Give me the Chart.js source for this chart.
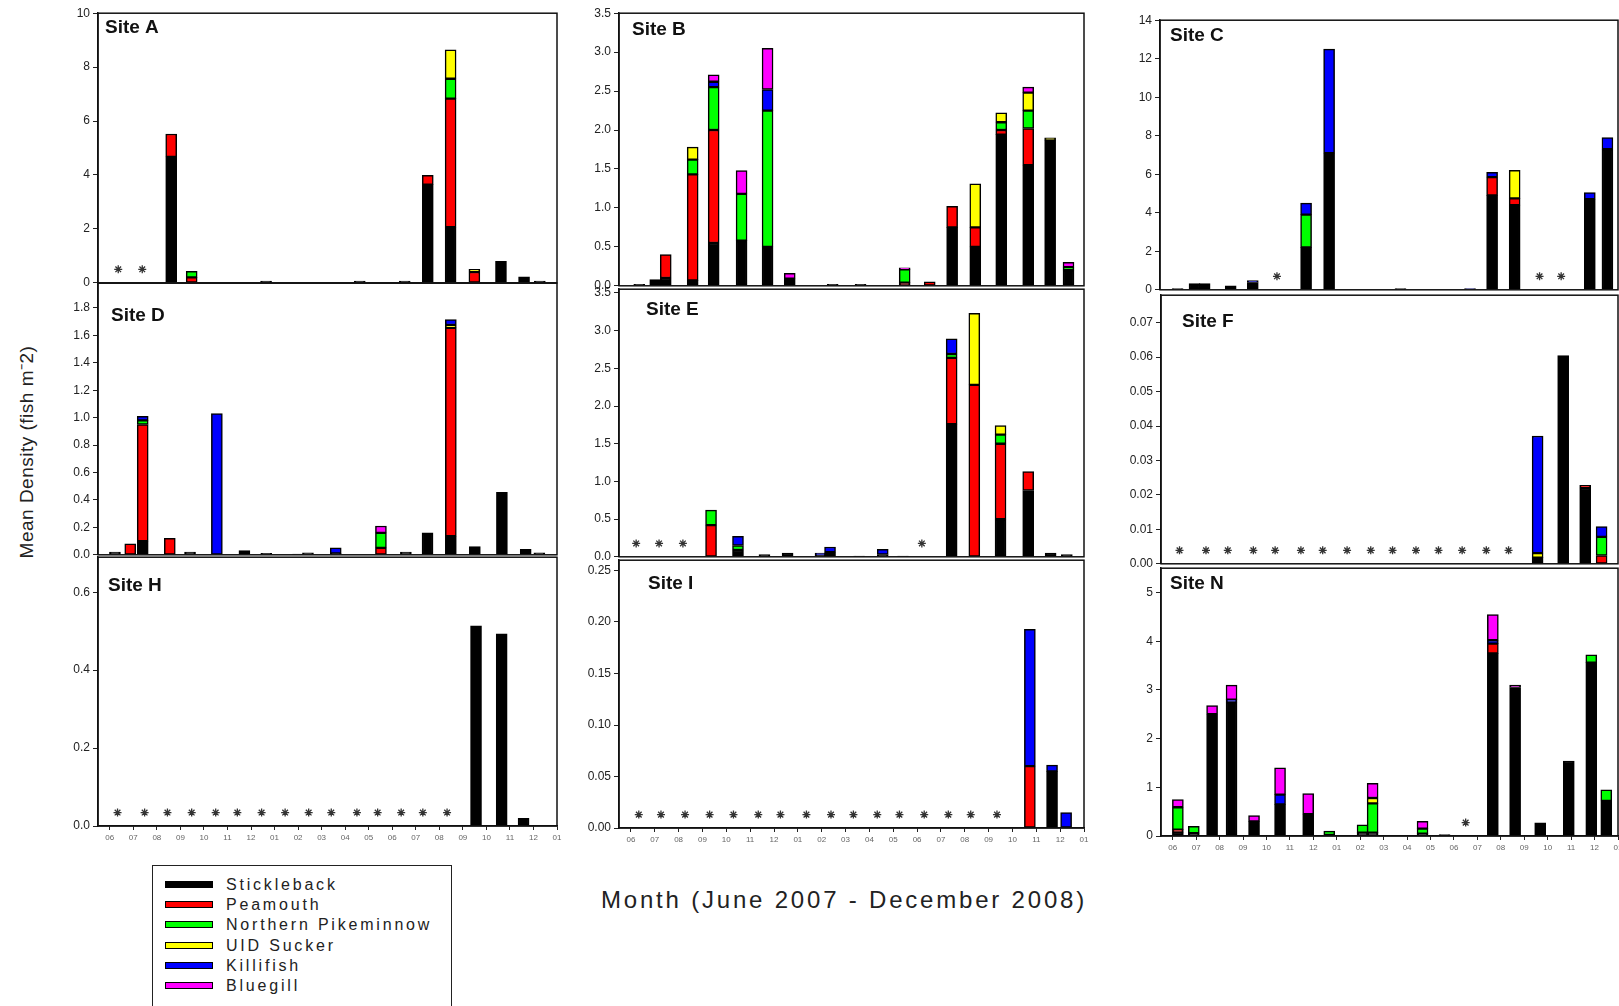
<!DOCTYPE html>
<html>
<head>
<meta charset="utf-8">
<script src="https://cdn.jsdelivr.net/npm/chart.js@4.4.0/dist/chart.umd.min.js"></script>
<style>
  html, body { margin: 0; padding: 0; background: #fff; width: 1619px; height: 1006px; overflow: hidden; }
  body { position: relative; font-family: "Liberation Sans", Arial, sans-serif; color: #222; }
  canvas { position: absolute; }
  #xTitle { position: absolute; left: 844px; top: 900px; transform: translate(-50%, -50%); font-size: 24px; letter-spacing: 2.8px; white-space: nowrap; }
  #yTitle { position: absolute; left: 26px; top: 452px; transform: translate(-50%, -50%) rotate(-90deg); font-size: 19px; letter-spacing: 0.5px; white-space: nowrap; }
  #legend { position: absolute; left: 152px; top: 865px; width: 298px; height: 150px; border: 1.5px solid #222; }
  .lg-swatch { position: absolute; left: 12px; width: 46px; height: 5px; border: 1.5px solid #000; }
  .lg-text { position: absolute; left: 73px; font-size: 16px; letter-spacing: 2.8px; line-height: 18px; white-space: nowrap; }
</style>
</head>
<body>
<div id="xTitle">Month (June 2007 - December 2008)</div>
<div id="yTitle">Mean Density (fish m⁻2)</div>
<div id="legend"></div>

<script>
// x axis: months since June 2007 (tick 0 = June 2007, tick 19 = Jan 2009)
const monthTicks = ['06', '07', '08', '09', '10', '11', '12', '01', '02', '03',
                    '04', '05', '06', '07', '08', '09', '10', '11', '12', '01'];

const speciesNames = ['Stickleback', 'Peamouth', 'Northern Pikeminnow', 'UID Sucker', 'Killifish', 'Bluegill'];
const speciesColors = ['#000000', '#ff0000', '#00ff00', '#ffff00', '#0000ff', '#ff00ff'];

// Site A
const aDate   = [2.61, 3.48, 6.64, 10.62, 12.53, 13.51, 14.48, 15.49, 16.62, 17.6, 18.27];
const aStick  = [4.67, 0, 0.06, 0.06, 0.06, 3.64, 2.06, 0, 0.8, 0.22, 0.06];
const aPea    = [0.85, 0.2, 0, 0, 0, 0.35, 4.77, 0.4, 0, 0, 0];
const aPike   = [0, 0.23, 0, 0, 0, 0, 0.74, 0, 0, 0, 0];
const aSucker = [0, 0, 0, 0, 0, 0, 1.07, 0.1, 0, 0, 0];
const aKilli  = [0, 0, 0, 0, 0, 0, 0, 0, 0, 0, 0];
const aBlue   = [0, 0, 0, 0, 0, 0, 0, 0, 0, 0, 0];
const aStars  = [0.36, 1.38];

// Site B
const bDate   = [0.35, 1.02, 1.46, 2.59, 3.47, 4.64, 5.73, 6.66, 8.46, 9.63, 11.48, 12.53, 13.47, 14.44, 15.53, 16.66, 17.58, 18.35];
const bStick  = [0.02, 0.08, 0.1, 0.07, 0.55, 0.58, 0.5, 0.09, 0.02, 0.02, 0, 0, 0.75, 0.5, 1.94, 1.55, 1.87, 0.2];
const bPea    = [0, 0, 0.3, 1.36, 1.45, 0, 0, 0, 0, 0, 0.04, 0.05, 0.27, 0.25, 0.06, 0.47, 0, 0];
const bPike   = [0, 0, 0, 0.19, 0.55, 0.6, 1.75, 0, 0, 0, 0.17, 0, 0, 0, 0.1, 0.23, 0, 0.04];
const bSucker = [0, 0, 0, 0.16, 0, 0, 0, 0, 0, 0, 0, 0, 0, 0.56, 0.12, 0.23, 0.03, 0];
const bKilli  = [0, 0, 0, 0, 0.07, 0, 0.27, 0, 0, 0, 0, 0, 0, 0, 0, 0, 0, 0];
const bBlue   = [0, 0, 0, 0, 0.09, 0.3, 0.53, 0.07, 0, 0, 0.02, 0, 0, 0, 0, 0.07, 0, 0.06];
const bStars  = [];

// Site C
const cDate   = [0.25, 0.97, 1.4, 2.51, 3.45, 5.72, 6.7, 9.74, 12.7, 13.64, 14.6, 17.8, 18.55];
const cStick  = [0.06, 0.32, 0.32, 0.2, 0.38, 2.2, 7.1, 0.06, 0, 4.9, 4.4, 4.7, 7.3];
const cPea    = [0, 0, 0, 0, 0, 0, 0, 0, 0, 0.95, 0.35, 0, 0];
const cPike   = [0, 0, 0, 0, 0, 1.7, 0, 0, 0, 0, 0, 0, 0];
const cSucker = [0, 0, 0, 0, 0, 0, 0, 0, 0, 0, 1.45, 0, 0];
const cKilli  = [0, 0, 0, 0, 0.1, 0.6, 5.4, 0, 0.06, 0.25, 0, 0.35, 0.6];
const cBlue   = [0, 0, 0, 0, 0, 0, 0, 0, 0, 0, 0, 0, 0];
const cStars  = [4.48, 15.66, 16.58];

// Site D
const dDate   = [0.22, 0.87, 1.4, 2.55, 3.41, 4.55, 5.72, 6.65, 8.0, 8.42, 9.6, 11.52, 12.58, 13.5, 14.49, 15.51, 16.66, 17.67, 18.25];
const dStick  = [0.02, 0, 0.1, 0, 0.02, 0, 0.03, 0.01, 0.005, 0.015, 0.01, 0, 0.02, 0.16, 0.135, 0.06, 0.455, 0.04, 0.015];
const dPea    = [0, 0.08, 0.85, 0.12, 0, 0, 0, 0, 0, 0, 0, 0.05, 0, 0, 1.52, 0, 0, 0, 0];
const dPike   = [0, 0, 0.03, 0, 0, 0, 0, 0, 0, 0, 0, 0.11, 0, 0, 0, 0, 0, 0, 0];
const dSucker = [0, 0, 0, 0, 0, 0, 0, 0, 0, 0, 0, 0, 0, 0, 0.02, 0, 0, 0, 0];
const dKilli  = [0, 0, 0.03, 0, 0, 1.03, 0, 0, 0, 0, 0.04, 0, 0, 0, 0.04, 0, 0, 0, 0];
const dBlue   = [0, 0, 0, 0, 0, 0, 0, 0, 0, 0, 0, 0.05, 0, 0, 0, 0, 0, 0, 0];
const dStars  = [];

// Site E
const eDate   = [3.36, 4.49, 5.6, 6.57, 7.95, 8.35, 9.57, 10.56, 11.41, 13.45, 14.4, 15.5, 16.66, 17.6, 18.28];
const eStick  = [0, 0.09, 0.03, 0.05, 0.02, 0.06, 0.01, 0.03, 0.01, 1.76, 0, 0.5, 0.88, 0.05, 0.03];
const ePea    = [0.42, 0, 0, 0, 0, 0, 0, 0, 0, 0.88, 2.28, 1.0, 0.25, 0, 0];
const ePike   = [0.2, 0.06, 0, 0, 0, 0, 0, 0, 0, 0.05, 0, 0.12, 0, 0, 0];
const eSucker = [0, 0, 0, 0, 0, 0, 0, 0, 0, 0, 0.95, 0.12, 0, 0, 0];
const eKilli  = [0, 0.12, 0, 0, 0.03, 0.07, 0, 0.07, 0, 0.2, 0, 0, 0, 0, 0];
const eBlue   = [0, 0, 0, 0, 0, 0, 0, 0, 0, 0, 0, 0, 0, 0, 0];
const eStars  = [0.22, 1.18, 2.18, 12.2];

// Site F
const fDate   = [15.57, 16.66, 17.6, 18.3];
const fStick  = [0.0018, 0.0605, 0.022, 0];
const fPea    = [0, 0, 0.0008, 0.0024];
const fPike   = [0, 0, 0, 0.0054];
const fSucker = [0.0013, 0, 0, 0];
const fKilli  = [0.034, 0, 0, 0.003];
const fBlue   = [0, 0, 0, 0];
const fStars  = [0.29, 1.42, 2.35, 3.44, 4.37, 5.47, 6.4, 7.44, 8.45, 9.38, 10.38, 11.34, 12.35, 13.38, 14.33];

// Site H
const hDate   = [15.56, 16.65, 17.58];
const hStick  = [0.514, 0.493, 0.02];
const hPea    = [0, 0, 0];
const hPike   = [0, 0, 0];
const hSucker = [0, 0, 0];
const hKilli  = [0, 0, 0];
const hBlue   = [0, 0, 0];
const hStars  = [0.33, 1.48, 2.45, 3.48, 4.5, 5.42, 6.45, 7.45, 8.45, 9.41, 10.5, 11.38, 12.38, 13.3, 14.33];

// Site I
const iDate   = [16.73, 17.66, 18.25];
const iStick  = [0, 0.055, 0];
const iPea    = [0.06, 0, 0];
const iPike   = [0, 0, 0];
const iSucker = [0, 0, 0];
const iKilli  = [0.133, 0.006, 0.015];
const iBlue   = [0, 0, 0];
const iStars  = [0.33, 1.26, 2.27, 3.3, 4.3, 5.34, 6.27, 7.36, 8.39, 9.33, 10.33, 11.26, 12.3, 13.31, 14.25, 15.35];

// Site N
const nDate   = [0.22, 0.9, 1.68, 2.51, 3.47, 4.58, 5.78, 6.68, 8.1, 8.53, 10.66, 11.6, 13.66, 14.61, 15.68, 16.9, 17.86, 18.5];
const nStick  = [0.08, 0.06, 2.5, 2.75, 0.3, 0.65, 0.45, 0.02, 0.07, 0.07, 0.05, 0.03, 3.75, 3.05, 0.27, 1.54, 3.56, 0.72];
const nPea    = [0.05, 0, 0, 0, 0, 0, 0, 0, 0, 0, 0, 0, 0.2, 0, 0, 0, 0, 0];
const nPike   = [0.46, 0.14, 0, 0, 0, 0, 0, 0.08, 0.16, 0.6, 0.1, 0, 0, 0, 0, 0, 0.16, 0.23];
const nSucker = [0, 0, 0, 0, 0, 0, 0, 0, 0, 0.11, 0, 0, 0, 0, 0, 0, 0, 0];
const nKilli  = [0, 0, 0, 0.05, 0, 0.2, 0, 0, 0, 0, 0, 0, 0.07, 0, 0, 0, 0, 0];
const nBlue   = [0.16, 0, 0.18, 0.3, 0.12, 0.55, 0.42, 0, 0, 0.3, 0.15, 0, 0.53, 0.05, 0, 0, 0, 0];
const nStars  = [12.5];

// panel placement (plot area in page px) and axis setup
const panels = [
  { title: 'Site A', L: 98,   T: 13,  R: 557,  B: 283, yMax: 10,    step: 2,    dec: 0, tx: 7,  ty: 15, bottom: false,
    dates: aDate, series: [aStick, aPea, aPike, aSucker, aKilli, aBlue], stars: aStars },
  { title: 'Site B', L: 619,  T: 13,  R: 1084, B: 286, yMax: 3.5,   step: 0.5,  dec: 1, tx: 13, ty: 17, bottom: false,
    dates: bDate, series: [bStick, bPea, bPike, bSucker, bKilli, bBlue], stars: bStars },
  { title: 'Site C', L: 1160, T: 20,  R: 1618, B: 290, yMax: 14,    step: 2,    dec: 0, tx: 10, ty: 16, bottom: false,
    dates: cDate, series: [cStick, cPea, cPike, cSucker, cKilli, cBlue], stars: cStars },
  { title: 'Site D', L: 98,   T: 283, R: 557,  B: 555, yMax: 1.98,  step: 0.2,  dec: 1, tx: 13, ty: 33, bottom: false,
    dates: dDate, series: [dStick, dPea, dPike, dSucker, dKilli, dBlue], stars: dStars },
  { title: 'Site E', L: 619,  T: 289, R: 1084, B: 557, yMax: 3.55,  step: 0.5,  dec: 1, tx: 27, ty: 21, bottom: false,
    dates: eDate, series: [eStick, ePea, ePike, eSucker, eKilli, eBlue], stars: eStars },
  { title: 'Site F', L: 1161, T: 295, R: 1618, B: 564, yMax: 0.078, step: 0.01, dec: 2, tx: 21, ty: 27, bottom: false,
    dates: fDate, series: [fStick, fPea, fPike, fSucker, fKilli, fBlue], stars: fStars },
  { title: 'Site H', L: 98,   T: 557, R: 557,  B: 826, yMax: 0.69,  step: 0.2,  dec: 1, tx: 10, ty: 29, bottom: true,
    dates: hDate, series: [hStick, hPea, hPike, hSucker, hKilli, hBlue], stars: hStars },
  { title: 'Site I', L: 619,  T: 560, R: 1084, B: 828, yMax: 0.26,  step: 0.05, dec: 2, tx: 29, ty: 24, bottom: true,
    dates: iDate, series: [iStick, iPea, iPike, iSucker, iKilli, iBlue], stars: iStars },
  { title: 'Site N', L: 1161, T: 568, R: 1618, B: 836, yMax: 5.5,   step: 1,    dec: 0, tx: 9,  ty: 16, bottom: true,
    dates: nDate, series: [nStick, nPea, nPike, nSucker, nKilli, nBlue], stars: nStars },
];

const Y_W = 48;   // y axis width
const PAD = 10;   // top/right/bottom padding
const X_H = 22;   // x axis height on the bottom row

// frame around the plot + the site label
const framePlugin = {
  id: 'frame',
  afterDraw(chart, args, opts) {
    const { ctx, chartArea: a } = chart;
    ctx.save();
    ctx.strokeStyle = '#111';
    ctx.lineWidth = 1.5;
    ctx.strokeRect(a.left, a.top, a.right - a.left, a.bottom - a.top);
    ctx.font = 'bold 19px "Liberation Sans", Arial, sans-serif';
    ctx.fillStyle = '#111';
    ctx.textBaseline = 'middle';
    ctx.fillText(opts.title, a.left + opts.tx, a.top + opts.ty);
    ctx.restore();
  }
};

function makePanel(p) {
  const canvas = document.createElement('canvas');
  const w = (p.R - p.L) + Y_W + PAD;
  const h = (p.B - p.T) + PAD + (p.bottom ? X_H : PAD);
  canvas.width = w;
  canvas.height = h;
  canvas.style.left = (p.L - Y_W) + 'px';
  canvas.style.top = (p.T - PAD) + 'px';
  canvas.style.width = w + 'px';
  canvas.style.height = h + 'px';
  document.body.appendChild(canvas);

  const datasets = speciesNames.map((name, k) => ({
    type: 'bar',
    label: name,
    data: p.dates.map((x, i) => ({ x: x, y: p.series[k][i] ? p.series[k][i] : null })),
    backgroundColor: speciesColors[k],
    borderColor: '#000',
    borderWidth: 1.5,
    borderSkipped: false,
    barThickness: 11,
  }));

  datasets.push({
    type: 'scatter',
    label: 'not sampled',
    data: p.stars.map(x => ({ x: x, y: p.yMax * 0.05 })),
    pointStyle: 'star',
    radius: 4,
    borderColor: '#333',
    backgroundColor: '#333',
    borderWidth: 1.3,
  });

  new Chart(canvas, {
    type: 'bar',
    data: { datasets: datasets },
    options: {
      responsive: false,
      animation: false,
      devicePixelRatio: 1,
      layout: { padding: { top: PAD, right: PAD, bottom: p.bottom ? 0 : PAD, left: 0 } },
      plugins: {
        legend: { display: false },
        tooltip: { enabled: false },
        frame: { title: p.title, tx: p.tx, ty: p.ty },
      },
      scales: {
        x: {
          type: 'linear',
          min: -0.5,
          max: 19,
          offset: false,
          stacked: true,
          display: p.bottom,
          grid: { offset: false, drawOnChartArea: false, drawTicks: true, tickLength: 4, color: '#222' },
          border: { display: true, color: '#111', width: 1.5 },
          ticks: {
            stepSize: 1,
            includeBounds: false,
            autoSkip: false,
            maxRotation: 0,
            padding: 3,
            color: '#666',
            font: { family: '"Liberation Sans", Arial, sans-serif', size: 8 },
            callback: v => monthTicks[v] !== undefined ? monthTicks[v] : '',
          },
          afterFit: s => { s.height = p.bottom ? X_H : 0; },
        },
        y: {
          min: 0,
          max: p.yMax,
          stacked: true,
          grid: { drawOnChartArea: false, drawTicks: true, tickLength: 5, color: '#222' },
          border: { display: true, color: '#111', width: 1.5 },
          ticks: {
            stepSize: p.step,
            includeBounds: false,
            padding: 3,
            color: '#222',
            font: { family: '"Liberation Sans", Arial, sans-serif', size: 12 },
            callback: v => Number(v).toFixed(p.dec),
          },
          afterFit: s => { s.width = Y_W; },
        },
      },
    },
    plugins: [framePlugin],
  });
}

panels.forEach(makePanel);

// legend box
const legend = document.getElementById('legend');
speciesNames.forEach((name, k) => {
  const rowY = 19 + k * 20.2;
  const sw = document.createElement('div');
  sw.className = 'lg-swatch';
  sw.style.top = (rowY - 4) + 'px';
  sw.style.background = speciesColors[k];
  legend.appendChild(sw);
  const tx = document.createElement('div');
  tx.className = 'lg-text';
  tx.style.top = (rowY - 9) + 'px';
  tx.textContent = name;
  legend.appendChild(tx);
});
</script>
</body>
</html>
